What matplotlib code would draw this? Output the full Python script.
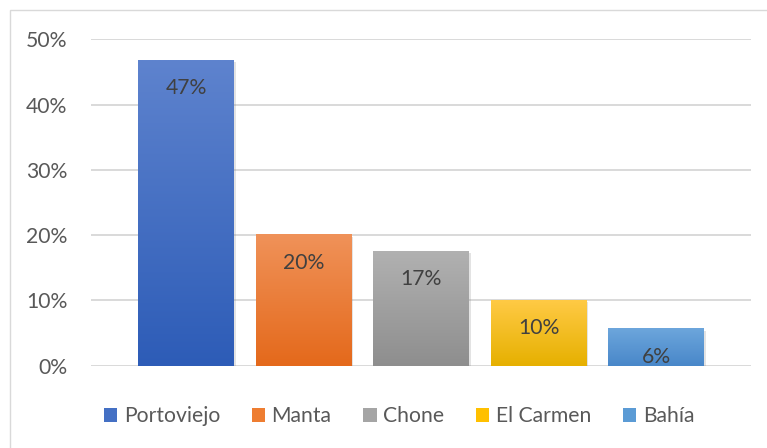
import numpy as np
import matplotlib
import matplotlib.pyplot as plt
import matplotlib.ticker as mtick
import matplotlib.patheffects as pe
from matplotlib.patches import Rectangle, Patch
from matplotlib.colors import LinearSegmentedColormap

matplotlib.use('agg')
plt.rcParams['font.family'] = ['Lato', 'DejaVu Sans']

# data
cities = ['Portoviejo', 'Manta', 'Chone', 'El Carmen', 'Bahía']
shares = [0.468, 0.201, 0.176, 0.101, 0.057]
share_labels = ['47%', '20%', '17%', '10%', '6%']

# gradient (top, bottom) per bar
tops = ['#5E83CE', '#F09259', '#B1B1B1', '#FFCA45', '#6DA6DC']
bottoms = ['#2D5CB7', '#E4691B', '#8E8E8E', '#E6B000', '#4887C9']
mids = ['#4470C4', '#EE7D31', '#A5A5A5', '#FFC000', '#5B9BD5']

FS = 15.2
W, H = 767, 448
fig = plt.figure(figsize=(W / 100, H / 100), dpi=100)
ax = fig.add_axes([91 / W, (H - 365.7) / H, (750.5 - 91) / W, (365.7 - 39.3) / H])

x = np.arange(len(cities))
bars = ax.bar(x, shares, width=0.81, color=mids, zorder=2,
              path_effects=[pe.SimplePatchShadow(offset=(1.5, -1.5), shadow_rgbFace='#808080', alpha=0.22),
                            pe.Normal()])

# gradient fill clipped to each bar
for b, top, bot in zip(bars, tops, bottoms):
    cmap = LinearSegmentedColormap.from_list('g', [bot, top])
    x0, w, h = b.get_x(), b.get_width(), b.get_height()
    grad = np.linspace(0, 1, 256).reshape(-1, 1)
    im = ax.imshow(grad, cmap=cmap, origin='lower', aspect='auto',
                   extent=(x0, x0 + w, 0, h), zorder=3)
    im.set_clip_path(b)

for b, lab in zip(bars, share_labels):
    ax.annotate(lab, (b.get_x() + b.get_width() / 2, b.get_height()),
                xytext=(0, -20.3), textcoords='offset points',
                ha='center', va='center', fontsize=FS, color='#404040', zorder=4)

ax.set_xlim(-0.809, 4.804)
ax.set_ylim(0, 0.5)
ax.set_yticks(np.arange(0, 0.51, 0.1))
ax.yaxis.set_major_formatter(mtick.PercentFormatter(1.0, decimals=0))
ax.tick_params(axis='y', length=0, pad=17, labelsize=FS, labelcolor='#595959')
ax.set_xticks([])
ax.grid(axis='y', color='#D9D9D9', linewidth=1.4, zorder=0)
ax.set_axisbelow(True)
for s in ax.spines.values():
    s.set_visible(False)

handles = [Patch(facecolor=c, edgecolor='none') for c in mids]
fig.legend(handles, cities, loc='center', bbox_to_anchor=(399 / W, (H - 416) / H),
           ncol=5, frameon=False, fontsize=FS, labelcolor='#595959',
           handlelength=0.64, handleheight=0.64, handletextpad=0.3,
           columnspacing=1.5)

# outer chart border
fig.add_artist(Rectangle((9.5 / W, -0.1), 1.2, (H - 10.5) / H + 0.1,
                         transform=fig.transFigure, fill=False,
                         edgecolor='#D9D9D9', linewidth=1))

fig.savefig('out.png', dpi=100)
